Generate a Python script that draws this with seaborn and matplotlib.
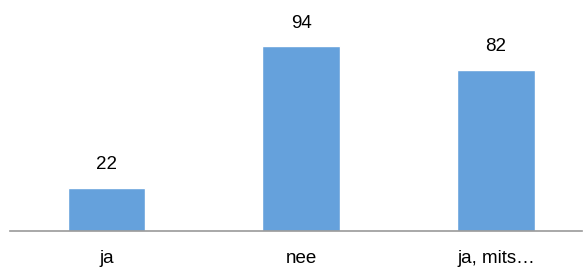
import pandas as pd
import seaborn as sns
import matplotlib
matplotlib.use('Agg')
import matplotlib.pyplot as plt

# Data
categories = ['ja', 'nee', 'ja, mits…']
values = [22, 94, 82]

data = pd.DataFrame({'antwoord': categories, 'aantal': values})

sns.set_style('white')
plt.rcParams['font.family'] = ['Liberation Sans', 'DejaVu Sans']

fig = plt.figure(figsize=(5.87, 2.68), dpi=100)
ax = fig.add_axes([10 / 587, 37 / 268, 572 / 587, 231 / 268])

sns.barplot(x='antwoord', y='aantal', data=data, color='#65A1DC', width=0.4,
            saturation=1, ax=ax)

# Value labels above the bars
for i, v in enumerate(values):
    ax.annotate(str(v), (i, v), xytext=(0, 16.5), textcoords='offset points',
                ha='center', va='center', fontsize=13.5, color='black')

ax.set_xlim(-0.4955, 2.4416)
ax.set_ylim(0, 117.4)
ax.set_xlabel('')
ax.set_ylabel('')
ax.set_yticks([])
ax.tick_params(axis='x', length=0, pad=14, labelsize=13.5, labelcolor='black')

for side in ['top', 'right', 'left']:
    ax.spines[side].set_visible(False)
ax.spines['bottom'].set_color('#999999')
ax.spines['bottom'].set_linewidth(1.2)

plt.savefig('out.png', dpi=100)
